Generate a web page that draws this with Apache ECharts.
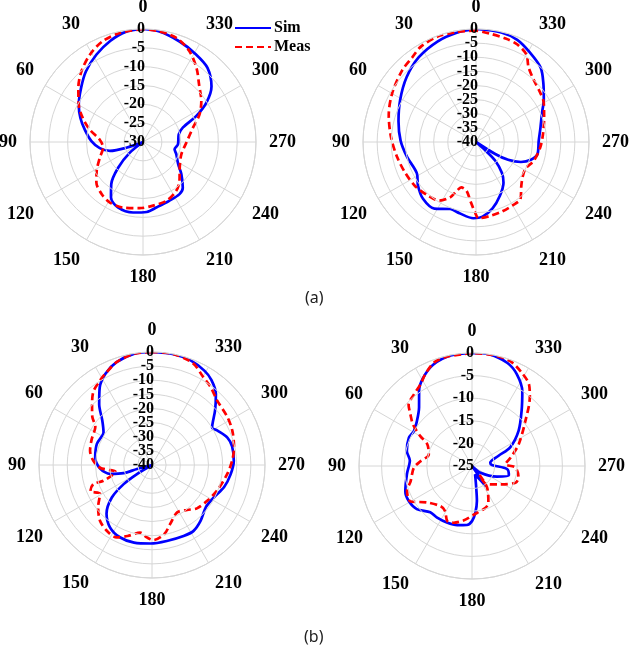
<!DOCTYPE html>
<html>
<head>
<meta charset="utf-8">
<script src="https://cdn.jsdelivr.net/npm/echarts@6/dist/echarts.min.js"></script>
<style>
  html, body { margin: 0; padding: 0; background: #fff; }
  #chart { width: 629px; height: 650px; }
</style>
</head>
<body>
<div id="chart"></div>
<script>
// radiation patterns, points are [dB, angle in degrees] in traced order
var simA = [[0,0],[-0.4,9],[-1.8,18],[-3.7,28],[-5.9,39],[-8.2,49],[-10.3,60],[-12.2,69],[-14.2,78],[-16.3,89],[-18.4,98],[-20.9,105],[-25.3,109],[-30,115],[-25.5,129],[-20.5,136],[-16,143],[-13,150],[-11.4,159],[-11.1,172],[-11.4,183],[-12.3,192],[-12.9,204],[-13.1,215],[-13.9,221],[-16.7,230],[-19,238],[-20.6,250],[-21.4,257],[-20.7,266],[-20.3,282],[-18.7,290],[-14.3,296],[-10.1,302],[-6.6,309],[-3.9,319],[-2.8,329],[-1.6,340],[-0.3,352],[0,360]];
var measA = [[0,0],[-0.4,12],[-1.2,22],[-2.8,31],[-5.1,41],[-7.6,50],[-10.3,60],[-12.7,68],[-15.5,77],[-18.5,87],[-19.3,98],[-17.8,110],[-15.5,122],[-13.6,131],[-12.3,142],[-11.7,151],[-11.8,163],[-12.4,177],[-12.9,189],[-13.2,202],[-14.3,214],[-15.8,223],[-18.1,235],[-19.3,252],[-18.5,269],[-16.2,286],[-13.3,296],[-11.1,305],[-8.6,316],[-5.8,324],[-2.9,333],[-1,342],[-0.3,352],[0,360]];

var simB = [[0,0],[-0.7,10],[-1.9,21],[-3.8,34],[-6.4,47],[-9.3,61],[-11.6,75],[-13.3,89],[-15,102],[-16.3,118],[-14.3,127],[-12.5,137],[-12.2,148],[-14.6,159],[-14.1,167],[-13,178],[-13.5,185],[-15.8,194],[-19.2,204],[-22.6,214],[-25.7,220],[-30.6,226],[-35.4,228],[-40,232],[-32,238],[-27,241],[-22.6,246],[-19.6,252],[-17.8,259],[-17.8,271],[-16.7,282],[-14.4,294],[-11.7,302],[-8.4,311],[-5.1,319],[-3,329],[-1,338],[-0.2,347],[0,360]];
var measB = [[-0.5,0],[-0.5,10],[-0.3,20],[-1,30],[-2.5,37],[-3.6,46],[-5.7,60],[-7.7,73],[-9.9,87],[-11.6,101],[-12.7,114],[-13.4,126],[-14.5,138],[-15.5,148],[-18.4,155],[-21.4,158.5],[-23.1,162],[-22.4,169],[-18.7,175],[-15.3,179],[-13,182],[-13.3,190],[-13.7,200],[-14.1,210],[-14.4,218],[-17.7,226],[-19.5,234],[-20.1,242],[-18.5,252],[-17.2,265],[-16.2,276],[-14.5,289],[-12.3,300],[-11.4,307],[-10,317],[-7.6,325],[-4.3,330],[-2.5,337],[-1.9,344],[-1.3,353],[-0.5,360]];

var simC = [[0,0],[-0.1,9],[-1.5,19],[-3.7,27],[-6.9,34],[-11.5,41],[-16.3,48],[-19.3,56],[-19.1,69],[-19.7,82],[-21.6,94],[-24.9,102],[-29.5,106],[-34.5,105],[-40,110],[-33.8,121],[-27.9,124],[-21.7,129],[-16.4,137],[-13.4,146],[-12,156],[-11.8,167],[-12.2,179],[-12.6,191],[-12.5,204],[-12.4,212],[-13.8,221],[-15.8,232],[-15.3,242],[-13.3,253],[-12,263],[-11,273],[-10.9,283],[-11.6,290],[-13.9,298],[-14.9,302],[-10.4,311],[-6.2,318],[-3.3,325],[-1.8,331],[-0.5,340],[0,349],[0,360]];
var measC = [[0,0],[-0.1,9],[-1.5,19],[-3.7,27],[-4.7,31],[-6.9,39],[-10.5,46],[-12.8,51],[-15.8,56],[-16.8,67],[-17.5,77],[-19.2,86],[-21.6,93],[-25.1,97],[-26.8,100],[-22,108],[-18.2,108],[-16.3,113],[-19,119],[-15.8,128],[-13,137],[-11.7,146],[-11.5,154],[-13.4,161],[-15.7,170],[-14.3,176],[-13.4,181],[-15.1,190],[-18.1,197],[-21,208],[-19.8,218],[-17.9,226],[-16.7,237],[-15.2,249],[-13.2,263],[-11.6,273],[-10.3,282],[-9.1,293],[-8.4,302],[-7.5,315],[-5.5,323],[-3.9,330],[-1.2,338],[0,349],[0,360]];

var simD = [[0,0],[-0.1,11],[-1,21],[-2.7,29],[-4.6,35],[-7.5,42],[-9.3,51],[-10,59],[-9.7,66],[-10.2,77],[-11.2,85],[-10.5,97],[-9.2,111],[-9,119],[-9.5,128],[-11.2,138],[-11.2,146],[-11.3,156],[-11.5,166],[-11.9,175],[-12.8,180],[-14.6,184],[-17.2,188],[-20.1,191],[-23,200],[-19.6,215],[-25,222],[-22.6,231],[-19,247],[-16.6,256],[-17.2,265],[-20.6,273],[-20.9,280],[-18.7,291],[-15.6,296],[-12.1,307],[-8.6,318],[-5.1,326],[-2.4,334],[-0.9,341],[0,351],[0,360]];
var measD = [[0,0],[-0.2,13],[-0.6,20],[-2.2,27],[-3.6,32],[-4.6,39],[-5.5,46],[-7.2,50],[-9.1,55],[-11.8,60],[-14,64],[-15.1,75],[-13.5,85],[-12.1,92],[-11,104],[-9.6,111],[-9.3,120],[-12.2,129],[-13.7,142],[-13.4,149],[-11.6,156],[-11.8,162],[-12.8,171],[-14.2,182],[-15.3,198],[-16.1,204],[-19.2,215],[-22.4,220],[-19.8,219],[-17.5,237],[-14.7,249],[-14.4,256],[-15.4,268],[-17.6,273],[-16.3,282],[-13.6,295],[-9.6,310],[-5.1,320],[-3,325],[-1.6,332],[-0.3,340],[0,349],[0,360]];

var simData = [simA, simB, simC, simD];
var measData = [measA, measB, measC, measD];
var radiusMin = [-30, -40, -40, -25];
var radiusStep = 5;
var angleStep = 30;
var panelLabels = ['(a)', '(b)'];

var centers = [[143, 142], [476, 142], [152, 465], [472, 466]];
var radii = [113, 113, 113, 113];

var serif = '"Liberation Serif", "Times New Roman", serif';
var gridColor = '#d6d6d6';
var dbLabel = { color: '#000', fontFamily: serif, fontWeight: 'bold', fontSize: 16 };

var chart = echarts.init(document.getElementById('chart'), null, { renderer: 'canvas' });

var polar = [], angleAxis = [], radiusAxis = [], series = [];
for (var i = 0; i < 4; i++) {
  polar.push({ center: centers[i], radius: radii[i] });
  angleAxis.push({
    polarIndex: i,
    type: 'value',
    min: 0,
    max: 360,
    interval: angleStep,
    startAngle: 90,
    clockwise: false,
    axisLine: { lineStyle: { color: gridColor, width: 1 } },
    axisTick: { show: false },
    splitLine: { lineStyle: { color: gridColor, width: 1 } },
    axisLabel: {
      margin: 13,
      color: '#000',
      fontFamily: serif,
      fontWeight: 'bold',
      fontSize: 18,
      formatter: function(v) { return v >= 360 ? '' : String(v); }
    }
  });
  // inner dB labels; the end labels go on an overlay axis so none get dropped
  radiusAxis.push({
    polarIndex: i,
    type: 'value',
    min: radiusMin[i],
    max: 0,
    interval: radiusStep,
    axisLine: { show: false },
    axisTick: { show: false },
    splitLine: { lineStyle: { color: gridColor, width: 1 } },
    axisLabel: echarts.util.extend({
      margin: -2,
      align: 'right',
      showMinLabel: false,
      showMaxLabel: false
    }, dbLabel),
    z: 5
  });
  series.push({
    name: 'Sim',
    type: 'line',
    coordinateSystem: 'polar',
    polarIndex: i,
    data: simData[i],
    showSymbol: false,
    symbol: 'none',
    smooth: 0.3,
    lineStyle: { color: '#0000ff', width: 2.7 },
    itemStyle: { color: '#0000ff' },
    z: 3
  });
  series.push({
    name: 'Meas',
    type: 'line',
    coordinateSystem: 'polar',
    polarIndex: i,
    data: measData[i],
    showSymbol: false,
    symbol: 'none',
    smooth: 0.3,
    lineStyle: { color: '#ff0000', width: 2.7, type: [7, 4] },
    itemStyle: { color: '#ff0000' },
    z: 4
  });
}
for (var j = 0; j < 4; j++) {
  polar.push({ center: centers[j], radius: radii[j] });
  angleAxis.push({
    polarIndex: 4 + j, type: 'value', min: 0, max: 360, startAngle: 90, clockwise: false,
    axisLine: { show: false }, axisTick: { show: false }, axisLabel: { show: false }, splitLine: { show: false }
  });
  radiusAxis.push({
    polarIndex: 4 + j,
    type: 'value',
    min: radiusMin[j],
    max: 0,
    interval: -radiusMin[j],
    axisLine: { show: false },
    axisTick: { show: false },
    splitLine: { show: false },
    axisLabel: echarts.util.extend({ margin: -2, align: 'right' }, dbLabel),
    z: 5
  });
}

chart.setOption({
  animation: false,
  backgroundColor: '#fff',
  legend: {
    data: ['Sim', 'Meas'],
    orient: 'vertical',
    left: 234,
    top: 20,
    padding: 0,
    itemGap: 3,
    itemWidth: 36,
    itemHeight: 12,
    itemStyle: { opacity: 0 },
    textStyle: { color: '#000', fontFamily: serif, fontWeight: 'bold', fontSize: 16, padding: [0, 0, 0, -2] }
  },
  polar: polar,
  angleAxis: angleAxis,
  radiusAxis: radiusAxis,
  series: series,
  graphic: [
    { type: 'text', left: 305, top: 290, style: { text: panelLabels[0], font: '16px "Noto Sans", sans-serif', fill: '#222' } },
    { type: 'text', left: 304, top: 629, style: { text: panelLabels[1], font: '16px "Noto Sans", sans-serif', fill: '#222' } }
  ]
});
</script>
</body>
</html>
